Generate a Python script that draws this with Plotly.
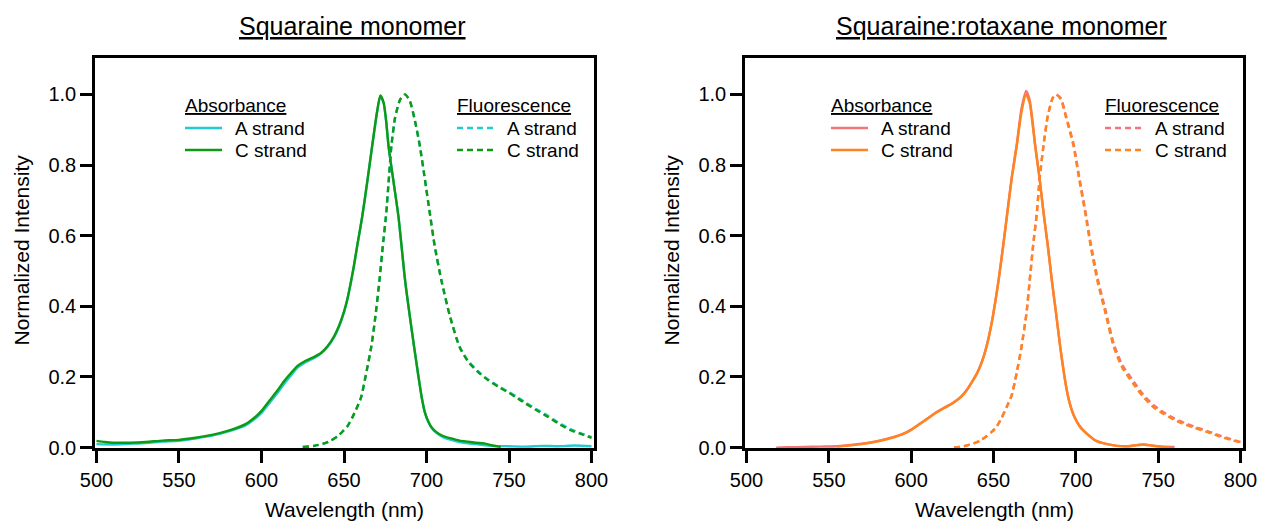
import plotly.graph_objects as go

# ---- Squaraine monomer: absorbance (solid) ----
abs_a_wl = [500, 510, 520, 530, 540, 550, 560, 570, 580, 590, 597, 600, 605, 610, 614, 618, 622, 626,
            632, 636, 640, 644, 647, 650, 652, 654, 656, 658, 661, 664, 667, 670, 672, 674, 675.5, 677,
            680, 683, 687, 690, 692.5, 695, 697, 699, 701, 703, 706, 710, 715, 720, 725, 730, 740, 750,
            760, 770, 780, 790, 800]
abs_a_val = [0.010, 0.009, 0.011, 0.013, 0.017, 0.019, 0.026, 0.034, 0.046, 0.062, 0.085, 0.098, 0.127,
             0.157, 0.182, 0.205, 0.227, 0.240, 0.254, 0.266, 0.285, 0.313, 0.343, 0.383, 0.418, 0.463,
             0.513, 0.570, 0.652, 0.748, 0.850, 0.948, 0.995, 0.975, 0.925, 0.853, 0.753, 0.654, 0.474,
             0.368, 0.285, 0.205, 0.145, 0.100, 0.074, 0.057, 0.042, 0.030, 0.022, 0.016, 0.012, 0.010,
             0.005, 0.004, 0.003, 0.005, 0.004, 0.006, 0.004]

abs_c_wl = [500, 505, 510, 520, 530, 540, 550, 560, 570, 580, 590, 597, 600, 605, 610, 614, 618, 622,
            626, 632, 636, 640, 644, 647, 650, 652, 654, 656, 658, 661, 664, 667, 670, 672, 674, 675.5,
            677, 680, 683, 687, 690, 692.5, 695, 697, 699, 701, 703, 706, 710, 715, 720, 725, 730, 735,
            740, 745]
abs_c_val = [0.019, 0.016, 0.014, 0.014, 0.016, 0.020, 0.022, 0.028, 0.036, 0.048, 0.066, 0.090, 0.104,
             0.134, 0.164, 0.190, 0.212, 0.232, 0.244, 0.257, 0.268, 0.287, 0.315, 0.345, 0.385, 0.420,
             0.465, 0.515, 0.572, 0.653, 0.750, 0.852, 0.950, 0.997, 0.977, 0.927, 0.853, 0.753, 0.654,
             0.474, 0.368, 0.285, 0.205, 0.145, 0.100, 0.075, 0.058, 0.044, 0.033, 0.026, 0.020, 0.017,
             0.014, 0.012, 0.006, 0.002]

# ---- Squaraine monomer: fluorescence (dashed) ----
fl_a_wl = [625, 632, 638, 642, 646, 649, 652, 655, 658, 660.4, 663, 666.5, 669, 671.5, 673.5, 675.6,
           677, 678.7, 681, 684, 687, 690, 693, 696, 699, 702, 705, 709, 714, 720, 725, 731, 737, 744,
           750, 754, 760, 767, 774, 780, 787, 794, 800]
fl_a_val = [0.002, 0.005, 0.012, 0.020, 0.032, 0.045, 0.060, 0.085, 0.115, 0.143, 0.200, 0.285, 0.370,
            0.474, 0.570, 0.664, 0.750, 0.853, 0.935, 0.985, 1.000, 0.980, 0.925, 0.853, 0.760, 0.664,
            0.570, 0.474, 0.376, 0.287, 0.247, 0.217, 0.194, 0.173, 0.157, 0.146, 0.128, 0.108, 0.089,
            0.071, 0.053, 0.040, 0.030]

fl_c_wl = [625, 632, 638, 642, 646, 649, 652, 655, 658, 660.4, 663, 666.5, 669, 671.5, 673.5, 675.6,
           677, 678.7, 681, 684, 687, 690, 693, 696, 699, 702, 705, 709, 714, 720, 725, 731, 737, 744,
           750, 754, 760, 767, 774, 780, 787, 794, 800]
fl_c_val = [0.002, 0.005, 0.012, 0.020, 0.032, 0.045, 0.060, 0.085, 0.115, 0.143, 0.200, 0.285, 0.370,
            0.474, 0.570, 0.664, 0.750, 0.853, 0.935, 0.985, 1.000, 0.980, 0.925, 0.853, 0.760, 0.664,
            0.570, 0.474, 0.375, 0.285, 0.245, 0.215, 0.192, 0.171, 0.155, 0.143, 0.125, 0.105, 0.086,
            0.068, 0.050, 0.038, 0.028]

# ---- Squaraine:rotaxane monomer: absorbance (solid) ----
rabs_a_wl = [518, 525, 535, 545, 555, 560, 570, 580, 590, 595, 600, 605, 610, 615.5, 620, 625, 630,
             633.7, 637, 640, 643, 646, 649, 651, 653, 656, 658.4, 661, 664.1, 667, 669.8, 672, 675.3,
             678, 680.4, 683, 685.4, 688, 690.5, 692, 694, 696, 698.6, 701, 703, 706.8, 712, 719, 725,
             732, 737, 741, 746, 752, 760]
rabs_a_val = [0.000, 0.001, 0.002, 0.003, 0.004, 0.006, 0.011, 0.019, 0.031, 0.039, 0.051, 0.067, 0.083,
              0.101, 0.113, 0.126, 0.143, 0.163, 0.187, 0.211, 0.244, 0.291, 0.356, 0.411, 0.472, 0.577,
              0.667, 0.763, 0.858, 0.960, 1.010, 0.983, 0.858, 0.762, 0.665, 0.571, 0.475, 0.380, 0.286,
              0.236, 0.176, 0.131, 0.093, 0.071, 0.057, 0.039, 0.020, 0.010, 0.005, 0.004, 0.007, 0.009,
              0.006, 0.003, 0.002]

rabs_c_wl = [555, 560, 570, 580, 590, 595, 600, 605, 610, 615.5, 620, 625, 630, 633.7, 637, 640, 643,
             646, 649, 651, 653, 656, 658.4, 661, 664.1, 667, 669.8, 672, 675.3, 678, 680.4, 683, 685.4,
             688, 690.5, 692, 694, 696, 698.6, 701, 703, 706.8, 712, 719, 725, 732, 737, 741, 746, 752,
             757]
rabs_c_val = [0.003, 0.005, 0.010, 0.018, 0.030, 0.038, 0.050, 0.066, 0.082, 0.100, 0.112, 0.125, 0.142,
              0.162, 0.186, 0.210, 0.243, 0.290, 0.355, 0.410, 0.470, 0.575, 0.664, 0.760, 0.853, 0.950,
              1.000, 0.975, 0.853, 0.760, 0.664, 0.570, 0.474, 0.380, 0.285, 0.235, 0.175, 0.130, 0.092,
              0.070, 0.056, 0.039, 0.020, 0.010, 0.005, 0.004, 0.007, 0.009, 0.006, 0.003, 0.002]

# ---- Squaraine:rotaxane monomer: fluorescence (dashed) ----
rfl_a_wl = [626, 632, 638, 642, 646, 649, 652, 655, 658, 661, 664, 667, 670, 672, 674, 676.3, 678,
            680.3, 683, 686, 688, 691, 694, 698.6, 702, 705.7, 709, 713, 718, 723, 728, 735, 741, 747,
            753, 760, 766, 772, 780, 787, 794, 800]
rfl_a_val = [0.000, 0.004, 0.012, 0.020, 0.033, 0.045, 0.060, 0.085, 0.115, 0.148, 0.210, 0.285, 0.380,
             0.474, 0.570, 0.664, 0.760, 0.853, 0.940, 0.990, 1.000, 0.988, 0.940, 0.860, 0.768, 0.672,
             0.580, 0.484, 0.390, 0.295, 0.236, 0.188, 0.150, 0.121, 0.101, 0.082, 0.070, 0.059, 0.047,
             0.035, 0.024, 0.016]

rfl_c_wl = [626, 632, 638, 642, 646, 649, 652, 655, 658, 661, 664, 667, 670, 672, 674, 676.3, 678,
            680.3, 683, 686, 688, 691, 694, 698.6, 702, 705.7, 709, 713, 718, 723, 728, 735, 741, 747,
            753, 760, 766, 772, 780, 787, 794, 800]
rfl_c_val = [0.000, 0.004, 0.012, 0.020, 0.033, 0.045, 0.060, 0.085, 0.115, 0.148, 0.210, 0.285, 0.380,
             0.474, 0.570, 0.664, 0.760, 0.853, 0.940, 0.990, 1.000, 0.985, 0.935, 0.853, 0.760, 0.664,
             0.570, 0.474, 0.380, 0.285, 0.228, 0.180, 0.143, 0.115, 0.096, 0.078, 0.066, 0.056, 0.044,
             0.032, 0.022, 0.015]

x_ticks = [500, 550, 600, 650, 700, 750, 800]
y_ticks = [0.0, 0.2, 0.4, 0.6, 0.8, 1.0]
y_tick_text = ["0.0", "0.2", "0.4", "0.6", "0.8", "1.0"]

CYAN = "#22CBD3"
GREEN = "#0E9A12"
SALMON = "#F2757A"
ORANGE = "#FF8420"

FONT = "Liberation Sans, Arial, sans-serif"
W, H = 1262, 523
LINE_W = 2.4
DASH = "6px,4px"

fig = go.Figure()


def add_line(x, y, color, name, xa, ya, dashed=False):
    fig.add_trace(go.Scatter(
        x=x, y=y, mode="lines", name=name, xaxis=xa, yaxis=ya, showlegend=False,
        line=dict(color=color, width=LINE_W, shape="spline", smoothing=0.6,
                  dash=DASH if dashed else "solid"),
    ))


# left panel
add_line(abs_a_wl, abs_a_val, CYAN, "A strand", "x", "y")
add_line(abs_c_wl, abs_c_val, GREEN, "C strand", "x", "y")
add_line(fl_a_wl, fl_a_val, CYAN, "A strand", "x", "y", dashed=True)
add_line(fl_c_wl, fl_c_val, GREEN, "C strand", "x", "y", dashed=True)
# right panel
add_line(rabs_a_wl, rabs_a_val, SALMON, "A strand", "x2", "y2")
add_line(rabs_c_wl, rabs_c_val, ORANGE, "C strand", "x2", "y2")
add_line(rfl_a_wl, rfl_a_val, SALMON, "A strand", "x2", "y2", dashed=True)
add_line(rfl_c_wl, rfl_c_val, ORANGE, "C strand", "x2", "y2", dashed=True)

y_dom = [1 - 448 / H, 1 - 58 / H]
x_dom_left = [95 / W, 593.5 / W]
x_dom_right = [745 / W, 1242.5 / W]

axis_common = dict(
    showline=True, linecolor="black", linewidth=2.5, mirror=True,
    ticks="outside", ticklen=12, tickwidth=2.5, tickcolor="black",
    showgrid=False, zeroline=False, automargin=False,
    tickfont=dict(family=FONT, size=20, color="black"),
)

fig.update_layout(
    width=W, height=H,
    margin=dict(l=0, r=0, t=0, b=0),
    paper_bgcolor="white", plot_bgcolor="white",
    font=dict(family=FONT, color="black"),
    showlegend=False,
    xaxis=dict(domain=x_dom_left, range=[499.1, 801.2], tickvals=x_ticks, anchor="y", **axis_common),
    yaxis=dict(domain=y_dom, range=[-0.001, 1.103], tickvals=y_ticks, ticktext=y_tick_text,
               anchor="x", **axis_common),
    xaxis2=dict(domain=x_dom_right, range=[499.1, 801.2], tickvals=x_ticks, anchor="y2", **axis_common),
    yaxis2=dict(domain=y_dom, range=[-0.001, 1.103], tickvals=y_ticks, ticktext=y_tick_text,
                anchor="x2", **axis_common),
)


def text(t, px, py, size, anchor="center", angle=0):
    fig.add_annotation(
        text=t, x=px / W, y=1 - py / H, xref="paper", yref="paper",
        xanchor=anchor, yanchor="middle", showarrow=False, textangle=angle,
        font=dict(family=FONT, size=size, color="black"),
    )


# panel titles and axis titles
text("<u>Squaraine monomer</u>", 352, 26, 25)
text("<u>Squaraine:rotaxane monomer</u>", 1001, 26, 25)
text("Wavelength (nm)", 344, 509, 21)
text("Wavelength (nm)", 994, 509, 21)
text("Normalized Intensity", 20.5, 250, 21, angle=-90)
text("Normalized Intensity", 670.5, 250, 21, angle=-90)


# legend blocks: underlined header, then a line key and a label per strand
def legend_block(left, header, entries, dashed):
    text(f"<u>{header}</u>", left, 105, 19, anchor="left")
    for (label, color), row_y in zip(entries, [128, 150]):
        fig.add_shape(type="line", xref="paper", yref="paper",
                      x0=(left + 2) / W, x1=(left + 39) / W, y0=1 - row_y / H, y1=1 - row_y / H,
                      line=dict(color=color, width=LINE_W, dash=DASH if dashed else "solid"))
        text(label, left + 50, row_y, 19, anchor="left")


legend_block(183, "Absorbance", [("A strand", CYAN), ("C strand", GREEN)], False)
legend_block(455, "Fluorescence", [("A strand", CYAN), ("C strand", GREEN)], True)
legend_block(829, "Absorbance", [("A strand", SALMON), ("C strand", ORANGE)], False)
legend_block(1103, "Fluorescence", [("A strand", SALMON), ("C strand", ORANGE)], True)

fig.write_html("out.html")
